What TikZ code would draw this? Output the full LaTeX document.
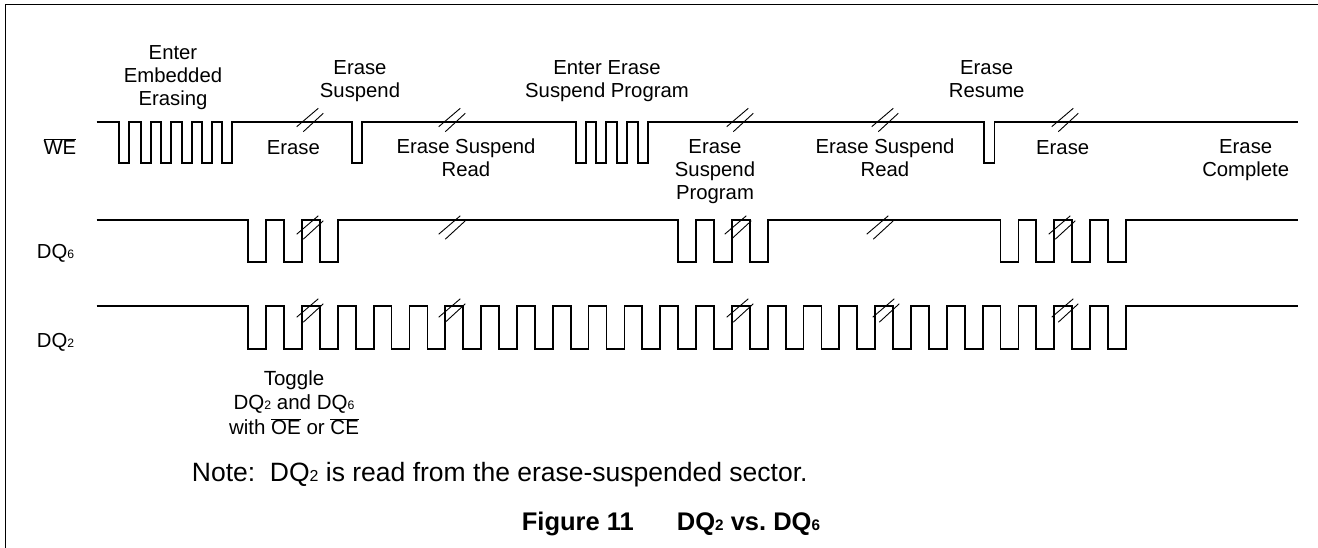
\documentclass[tikz,border=0pt]{standalone}
\usepackage{fontspec}
\setmainfont{Liberation Sans}
\usepackage{graphicx}
\frenchspacing
\newcommand{\sd}[1]{\scalebox{0.6}{#1}}
\newcommand{\ov}[1]{$\overline{\hbox{#1}}$}
\newcommand{\brkmark}[2]{%
  \draw[brk] ({#1-13.3},{#2+6.7}) -- ({#1+8.3},{#2-11.7});
  \draw[brk] ({#1-6.7},{#2+11.7}) -- ({#1+13.3},{#2-6.7});}
\begin{document}
\begin{tikzpicture}[x=1pt,y=-1pt,
  sig/.style={line width=1.8pt},
  brk/.style={line width=0.9pt},
  frame/.style={line width=1pt},
  lbl/.style={font=\fontsize{20.3}{23}\selectfont, align=center, inner sep=0pt,
    execute at begin node=\strut, execute at end node=\strut},
  siglbl/.style={font=\fontsize{20.3}{23}\selectfont, inner sep=0pt, anchor=base west}]
\useasboundingbox (0,0) rectangle (1318,548);
\draw[frame] (1318,5) -- (5,5) -- (5,548);
\def\hp{17.91}
% WE
\draw[sig] (96.7,121.7)
  foreach \a/\b in {119.3/129.3,140.7/150.7,161.3/171.3,182/192,202/212,222/232,
                    351.7/361.7,575.7/585.7,595.7/605.7,616.7/627.3,638.3/648.3,984/994.5}
  { -- (\a,121.7) -- (\a,163.3) -- (\b,163.3) -- (\b,121.7) } -- (1297.7,121.7);
% DQ6
\draw[sig] (96.7,220) -- (248.3,220)
  foreach \i in {1,2,3} { -- ++(0,41.7) -- ++(\hp,0) -- ++(0,-41.7) -- ++(\hp,0) }
  -- (678.1,220)
  foreach \i in {1,2,3} { -- ++(0,41.7) -- ++(\hp,0) -- ++(0,-41.7) -- ++(\hp,0) }
  -- (1000.5,220)
  foreach \i in {1,2,3,4} { -- ++(0,41.7) -- ++(\hp,0) -- ++(0,-41.7) -- ++(\hp,0) }
  -- (1297.7,220);
% DQ2
\draw[sig] (96.7,306) -- (248.3,306)
  foreach \i in {1,...,25} { -- ++(0,43.3) -- ++(\hp,0) -- ++(0,-43.3) -- ++(\hp,0) }
  -- (1297.7,306);
% break marks
\foreach \x in {310,452,740,885,1065} { \brkmark{\x}{120} }
\foreach \x in {310,452,738,880,1062} { \brkmark{\x}{227.5} }
\foreach \x in {310,452,740,886,1065} { \brkmark{\x}{310.5} }
% signal names
\node[siglbl] (we) at (43.3,154.2) {\ov{WE}};
\node[siglbl] (dq6) at (36.7,258.9) {DQ\sd{6}};
\node[siglbl] (dq2) at (36.7,347.2) {DQ\sd{2}};
% labels
\node[lbl] (l1) at (173,79.1) {Enter\\Embedded\\Erasing};
\node[lbl] (l2) at (360,82.1) {Erase\\Suspend};
\node[lbl] (l3) at (293.3,149.6) {Erase};
\node[lbl] (l4) at (466,161.1) {Erase Suspend\\Read};
\node[lbl] (l5) at (607,82.1) {Enter Erase\\Suspend Program};
\node[lbl] (l6) at (715,172.6) {Erase\\Suspend\\Program};
\node[lbl] (l7) at (885,161.1) {Erase Suspend\\Read};
\node[lbl] (l8) at (986.7,82.1) {Erase\\Resume};
\node[lbl] (l9) at (1062.7,149.6) {Erase};
\node[lbl] (l10) at (1245.7,161.1) {Erase\\Complete};
\node[lbl, font=\fontsize{20.5}{24.5}\selectfont] (tog) at (294,406.2)
  {Toggle\\DQ\sd{2} and DQ\sd{6}\\with \ov{OE} or \ov{CE}};
\node[anchor=base west, inner sep=0pt, font=\fontsize{26.5}{30}\selectfont] (note) at (191.7,481)
  {Note:\ \ DQ\sd{2} is read from the erase-suspended sector.};
\node[anchor=base west, inner sep=0pt, font=\fontsize{25.5}{30}\selectfont\bfseries] (fig) at (521.7,530.9)
  {Figure 11};
\node[anchor=base west, inner sep=0pt, font=\fontsize{25.5}{30}\selectfont\bfseries] (figt) at (676.7,530.9)
  {DQ\sd{2} vs. DQ\sd{6}};
\end{tikzpicture}
\end{document}
